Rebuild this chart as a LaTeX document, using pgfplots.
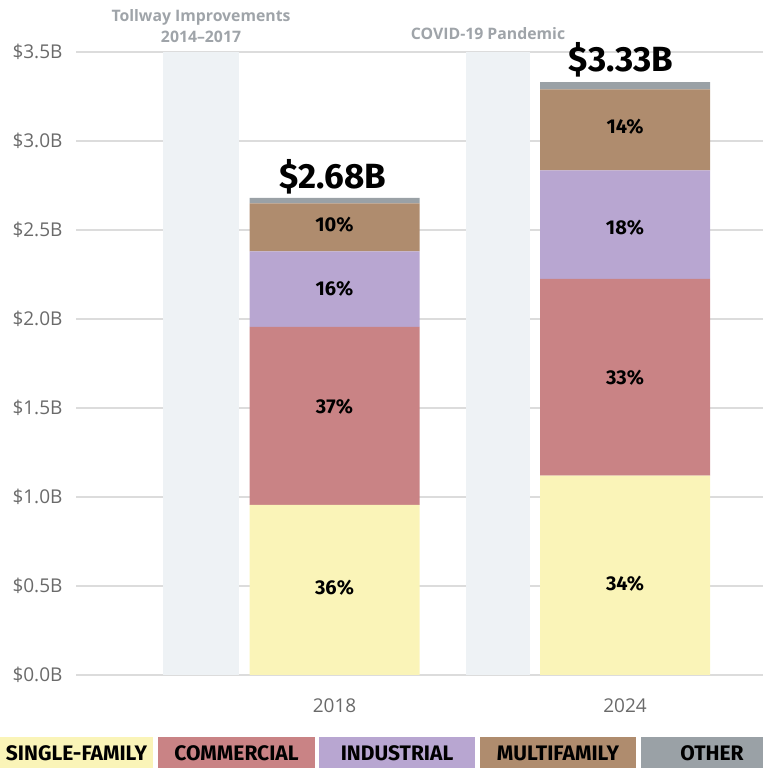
\documentclass[border=0pt]{standalone}
\usepackage{pgfplots}
\pgfplotsset{compat=1.18}
\usepackage{fontspec}
\setmainfont{Open Sans}
\newfontfamily\dinf{Fira Sans}
\definecolor{cSF}{HTML}{FAF4B8}
\definecolor{cCOM}{HTML}{C98385}
\definecolor{cIND}{HTML}{B8A6D1}
\definecolor{cMF}{HTML}{AF8C6E}
\definecolor{cOTH}{HTML}{9AA1A6}
\definecolor{cBAND}{HTML}{EEF2F5}
\definecolor{cANN}{HTML}{9FA4A9}
\definecolor{cTICK}{HTML}{6A6A6A}
\definecolor{cGRID}{HTML}{DCDCDC}
\tikzset{
  pct/.style={font=\dinf\bfseries\fontsize{20}{22}\selectfont},
  leg/.style={font=\dinf\bfseries\fontsize{21}{22}\selectfont},
  ann/.style={font=\bfseries\fontsize{15.8}{17}\selectfont, text=cANN},
  tot/.style={font=\dinf\bfseries\fontsize{35}{37}\selectfont},
}
\begin{document}
\begin{tikzpicture}
\begin{axis}[
  scale only axis,
  width=687pt, height=623pt,
  xmin=76, xmax=763, ymin=0, ymax=3.5,
  ybar stacked, bar width=170,
  clip=false,
  axis line style={draw=none},
  major tick style={draw=none},
  ymajorgrids, grid style={draw=cGRID, line width=1.5pt},
  ytick={0,0.5,1,1.5,2,2.5,3,3.5},
  yticklabels={\$0.0B,\$0.5B,\$1.0B,\$1.5B,\$2.0B,\$2.5B,\$3.0B,\$3.5B},
  xtick={334.5,625}, xticklabels={2018,2024},
  /pgf/number format/assume math mode=true,
  tick label style={font=\fontsize{19}{21}\selectfont, text=cTICK},
  yticklabel style={xshift=-10pt},
  xticklabel style={yshift=-20pt},
]
\fill[cBAND] (axis cs:163,0) rectangle (axis cs:239,3.5);
\fill[cBAND] (axis cs:466,0) rectangle (axis cs:530,3.5);
\addplot[fill=cSF, draw=none] coordinates {(334.5,0.955) (625,1.12)};
\addplot[fill=cCOM, draw=none] coordinates {(334.5,1.0) (625,1.105)};
\addplot[fill=cIND, draw=none] coordinates {(334.5,0.425) (625,0.61)};
\addplot[fill=cMF, draw=none] coordinates {(334.5,0.27) (625,0.455)};
\addplot[fill=cOTH, draw=none] coordinates {(334.5,0.03) (625,0.04)};
\coordinate (a1) at (axis cs:201,3.697);
\coordinate (a2) at (axis cs:201,3.584);
\coordinate (a3) at (axis cs:488,3.601);
\coordinate (t1) at (axis cs:333,2.798);
\coordinate (t2) at (axis cs:621,3.455);
\coordinate (p11) at (axis cs:334.5,0.489);
\coordinate (p12) at (axis cs:334.5,1.506);
\coordinate (p13) at (axis cs:334.5,2.169);
\coordinate (p14) at (axis cs:334.5,2.528);
\coordinate (p21) at (axis cs:625,0.511);
\coordinate (p22) at (axis cs:625,1.669);
\coordinate (p23) at (axis cs:625,2.511);
\coordinate (p24) at (axis cs:625,3.079);
\coordinate (L0) at (axis cs:0,-0.3483);
\coordinate (L1) at (axis cs:153,-0.5225);
\coordinate (L2) at (axis cs:158,-0.3483);
\coordinate (L3) at (axis cs:315,-0.5225);
\coordinate (L4) at (axis cs:319,-0.3483);
\coordinate (L5) at (axis cs:475,-0.5225);
\coordinate (L6) at (axis cs:480,-0.3483);
\coordinate (L7) at (axis cs:636,-0.5225);
\coordinate (L8) at (axis cs:641,-0.3483);
\coordinate (L9) at (axis cs:763,-0.5225);
\coordinate (m1) at (axis cs:76.5,-0.4410);
\coordinate (m2) at (axis cs:236.5,-0.4410);
\coordinate (m3) at (axis cs:397,-0.4410);
\coordinate (m4) at (axis cs:558,-0.4410);
\coordinate (m5) at (axis cs:712,-0.4410);
\coordinate (B0) at (axis cs:0,-0.5225);
\coordinate (B1) at (axis cs:763,3.792);
\end{axis}
\path (B0) rectangle (B1);
\node[ann] at (a1) {Tollway Improvements};
\node[ann] at (a2) {2014--2017};
\node[ann] at (a3) {COVID-19 Pandemic};
\node[tot] at (t1) {\$2.68B};
\node[tot] at (t2) {\$3.33B};
\node[pct] at (p11) {36\%};
\node[pct] at (p12) {37\%};
\node[pct] at (p13) {16\%};
\node[pct] at (p14) {10\%};
\node[pct] at (p21) {34\%};
\node[pct] at (p22) {33\%};
\node[pct] at (p23) {18\%};
\node[pct] at (p24) {14\%};
\fill[cSF] (L0) rectangle (L1);
\fill[cCOM] (L2) rectangle (L3);
\fill[cIND] (L4) rectangle (L5);
\fill[cMF] (L6) rectangle (L7);
\fill[cOTH] (L8) rectangle (L9);
\node[leg] at (m1) {SINGLE-FAMILY};
\node[leg] at (m2) {COMMERCIAL};
\node[leg] at (m3) {INDUSTRIAL};
\node[leg] at (m4) {MULTIFAMILY};
\node[leg] at (m5) {OTHER};
\end{tikzpicture}
\end{document}
